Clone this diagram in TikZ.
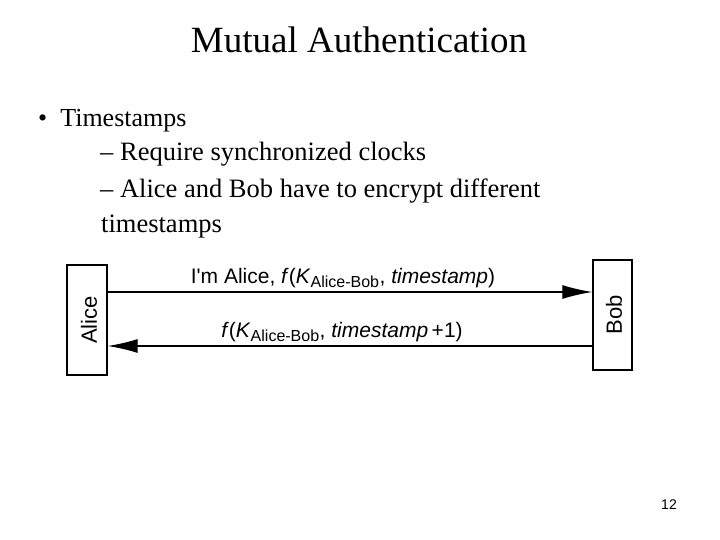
\documentclass[tikz,border=0pt]{standalone}
\usepackage{fontspec}
\setmainfont{Liberation Serif}
\newfontfamily\dsans{Liberation Sans}
\usetikzlibrary{arrows.meta}
\begin{document}
\begin{tikzpicture}[x=1pt,y=-1pt,
  txt/.style={anchor=base west,inner sep=0pt},
  box/.style={draw,line width=1.4pt},
  msg/.style={line width=1.3pt,-{Latex[length=30pt,width=14pt]}},
  lab/.style={font=\dsans\fontsize{21}{21}\selectfont,inner sep=0pt,anchor=base}]
\useasboundingbox (0,0) rectangle (720,540);
\node[anchor=base,inner sep=0pt,font=\fontsize{37}{37}\selectfont] (title) at (359,53) {Mutual Authentication};
\node[txt,font=\fontsize{26}{26}\selectfont] (b1) at (38,127) {\textbullet\ \ Timestamps};
\node[txt,font=\fontsize{26.5}{26.5}\selectfont] (s1) at (100,161) {–\ Require synchronized clocks};
\node[txt,font=\fontsize{26.5}{26.5}\selectfont] (s2) at (100,197) {–\ Alice and Bob have to encrypt different};
\node[txt,font=\fontsize{26.5}{26.5}\selectfont] (s3) at (101,233) {timestamps};
\node[box,minimum width=40pt,minimum height=110pt] (alice) at (87,320) {};
\node[rotate=90,font=\dsans\fontsize{22}{22}\selectfont] (at) at (89,320) {Alice};
\node[box,minimum width=39pt,minimum height=110pt] (bob) at (612.5,315) {};
\node[rotate=90,font=\dsans\fontsize{22}{22}\selectfont] (bt) at (614,315) {Bob};
\draw[msg] (alice.east|-0,292) -- (bob.west|-0,292);
\draw[msg] (bob.west|-0,346) -- (alice.east|-0,346);
\node[lab] (l1) at (343,283) {I'm Alice, \textit{f}(\textit{K}\textsubscript{\fontsize{16}{16}\selectfont Alice-Bob}, \textit{timestamp})};
\node[lab] (l2) at (342,337) {\textit{f}(\textit{K}\textsubscript{\fontsize{16}{16}\selectfont Alice-Bob}, \textit{timestamp}\,+1)};
\node[anchor=base,inner sep=0pt,font=\dsans\fontsize{14}{14}\selectfont] (pg) at (669,509) {12};
\end{tikzpicture}
\end{document}
